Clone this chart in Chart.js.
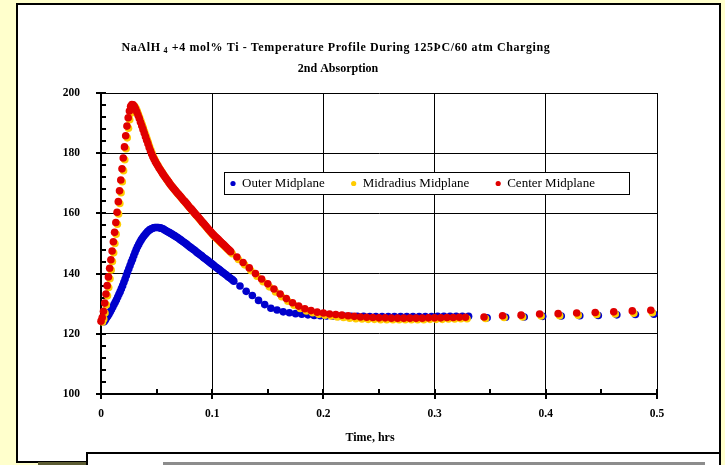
<!DOCTYPE html>
<html>
<head>
<meta charset="utf-8">
<script src="https://cdn.jsdelivr.net/npm/chart.js"></script>
<style>
  html, body { margin: 0; padding: 0; }
  body { width: 725px; height: 465px; background: #ffffcc; position: relative; overflow: hidden; }
  .frame { position: absolute; left: 16px; top: 3px; width: 701px; height: 456px; border: 2px solid #000; background: #fff; }
  .shadow { position: absolute; left: 38px; top: 462px; width: 48px; height: 3px; background: #5c5c33; }
  .panel { position: absolute; box-sizing: border-box; left: 86px; top: 452px; width: 635px; height: 13px;
           border-top: 2px solid #000; border-left: 2px solid #000; border-right: 2px solid #000; background: #fff; }
  .bar { position: absolute; left: 163px; top: 462px; width: 542px; height: 3px; background: #8c8c8c; }
  #chart { position: absolute; left: 0; top: 0; }
</style>
</head>
<body>
<div class="frame"></div>
<div class="shadow"></div>
<div class="panel"></div>
<div class="bar"></div>
<canvas id="chart" width="725" height="465"></canvas>
<script>
// sample times in seconds from start of charging
const timeSec = [
  0, 4, 8, 12, 16, 20, 24, 28, 32, 36,
  40, 44, 48, 52, 56, 60, 64, 68, 72, 76,
  80, 84, 88, 92, 96, 100, 104, 108, 112, 116,
  120, 124, 128, 132, 136, 140, 144, 148, 152, 156,
  160, 164, 168, 172, 176, 180, 184, 188, 192, 196,
  200, 204, 208, 212, 216, 220, 224, 228, 232, 236,
  240, 244, 248, 252, 256, 260, 264, 268, 272, 276,
  280, 284, 288, 292, 296, 300, 304, 308, 312, 316,
  320, 324, 328, 332, 336, 340, 344, 348, 352, 356,
  360, 364, 368, 372, 376, 380, 384, 388, 392, 396,
  400, 404, 408, 412, 416, 420,
  440, 460, 480, 500, 520, 540, 560, 580, 600, 620,
  640, 660, 680, 700, 720, 740, 760, 780, 800, 820,
  840, 860, 880, 900, 920, 940, 960, 980, 1000, 1020,
  1040, 1060, 1080, 1100, 1120, 1140, 1160, 1180,
  1240, 1300, 1360, 1420, 1480, 1540, 1600, 1660, 1720, 1780
];

// thermocouples are read one after another, so each channel lags a little
const readDelaySec = [10, 5, 0];

const outerTemp = [
  124.0, 124.6, 125.3, 125.9, 126.6, 127.3, 128.1, 128.9, 129.7, 130.5,
  131.3, 132.2, 133.1, 134.0, 135.0, 136.0, 137.1, 138.2, 139.4, 140.5,
  141.6, 142.7, 143.8, 144.8, 145.9, 147.0, 148.0, 148.9, 149.7, 150.5,
  151.2, 151.8, 152.4, 152.9, 153.4, 153.9, 154.2, 154.6, 154.8, 155.0,
  155.2, 155.3, 155.3, 155.3, 155.3, 155.2, 155.1, 155.0, 154.8, 154.5,
  154.3, 154.0, 153.8, 153.6, 153.3, 153.1, 152.8, 152.6, 152.3, 152.1,
  151.8, 151.5, 151.2, 150.9, 150.6, 150.3, 150.0, 149.7, 149.3, 149.0,
  148.7, 148.4, 148.1, 147.8, 147.5, 147.1, 146.8, 146.5, 146.2, 145.9,
  145.5, 145.2, 144.9, 144.6, 144.3, 143.9, 143.6, 143.3, 143.0, 142.7,
  142.3, 142.0, 141.7, 141.4, 141.1, 140.7, 140.4, 140.1, 139.8, 139.5,
  139.1, 138.8, 138.5, 138.2, 137.9, 137.5,
  135.9, 134.1, 132.7, 131.1, 129.7, 128.5, 127.9, 127.3, 127.0, 126.7,
  126.5, 126.3, 126.1, 126.0, 125.9, 125.9, 125.8, 125.8, 125.8, 125.8,
  125.8, 125.7, 125.7, 125.7, 125.7, 125.7, 125.7, 125.7, 125.7, 125.7,
  125.7, 125.7, 125.8, 125.8, 125.8, 125.8, 125.8, 125.8,
  125.3, 125.5, 125.6, 125.8, 125.9, 126.0, 126.1, 126.3, 126.4, 126.5
];

const midradiusTemp = [
  123.9, 124.9, 126.9, 129.6, 132.6, 135.4, 138.3, 141.2, 144.0, 146.9,
  150.0, 153.1, 156.4, 159.8, 163.3, 166.9, 170.5, 174.2, 177.8, 181.5,
  185.1, 188.3, 191.1, 193.3, 194.9, 195.7, 195.6, 195.0, 194.1, 193.0,
  191.9, 190.8, 189.6, 188.4, 187.2, 186.0, 184.8, 183.6, 182.4, 181.2,
  180.1, 179.0, 178.1, 177.3, 176.5, 175.8, 175.1, 174.4, 173.8, 173.1,
  172.5, 171.9, 171.3, 170.7, 170.2, 169.6, 169.0, 168.5, 168.0, 167.5,
  167.0, 166.5, 166.0, 165.6, 165.1, 164.6, 164.1, 163.6, 163.2, 162.7,
  162.2, 161.7, 161.2, 160.8, 160.3, 159.8, 159.3, 158.8, 158.4, 157.9,
  157.4, 156.9, 156.4, 156.0, 155.5, 155.0, 154.5, 154.0, 153.6, 153.1,
  152.6, 152.2, 151.8, 151.4, 151.0, 150.6, 150.2, 149.8, 149.4, 149.0,
  148.6, 148.2, 147.8, 147.4, 147.0, 146.6,
  144.7, 142.9, 141.0, 139.1, 137.3, 135.6, 133.9, 132.3, 130.8, 129.5,
  128.4, 127.6, 127.0, 126.5, 126.2, 125.9, 125.6, 125.4, 125.2, 125.0,
  124.9, 124.8, 124.8, 124.7, 124.7, 124.7, 124.7, 124.7, 124.7, 124.7,
  124.7, 124.8, 124.8, 124.8, 124.9, 124.9, 125.0, 125.0,
  125.1, 125.4, 125.6, 125.9, 126.0, 126.2, 126.4, 126.6, 126.8, 127.0
];

const centerTemp = [
  124.2, 125.4, 127.5, 130.2, 133.2, 136.0, 138.9, 141.8, 144.6, 147.5,
  150.6, 153.7, 157.0, 160.4, 163.9, 167.5, 171.1, 174.8, 178.4, 182.1,
  185.8, 189.0, 191.8, 194.0, 195.6, 196.2, 196.1, 195.5, 194.7, 193.7,
  192.6, 191.5, 190.3, 189.1, 187.9, 186.7, 185.5, 184.3, 183.1, 181.9,
  180.8, 179.7, 178.8, 178.0, 177.2, 176.5, 175.8, 175.1, 174.5, 173.8,
  173.2, 172.6, 172.0, 171.4, 170.9, 170.3, 169.7, 169.2, 168.7, 168.2,
  167.7, 167.2, 166.7, 166.3, 165.8, 165.3, 164.8, 164.3, 163.9, 163.4,
  162.9, 162.4, 161.9, 161.5, 161.0, 160.5, 160.0, 159.5, 159.1, 158.6,
  158.1, 157.6, 157.1, 156.7, 156.2, 155.7, 155.2, 154.7, 154.3, 153.8,
  153.3, 152.9, 152.5, 152.1, 151.7, 151.3, 150.9, 150.5, 150.1, 149.7,
  149.3, 148.9, 148.5, 148.1, 147.7, 147.3,
  145.5, 143.7, 141.9, 140.0, 138.2, 136.6, 134.9, 133.2, 131.7, 130.3,
  129.2, 128.3, 127.7, 127.2, 126.9, 126.6, 126.4, 126.2, 126.0, 125.8,
  125.6, 125.5, 125.4, 125.3, 125.3, 125.2, 125.2, 125.2, 125.2, 125.2,
  125.2, 125.3, 125.3, 125.3, 125.4, 125.4, 125.5, 125.5,
  125.6, 126.0, 126.2, 126.6, 126.7, 126.9, 127.1, 127.3, 127.6, 127.8
];

const seriesNames = ['Outer Midplane', 'Midradius Midplane', 'Center Midplane'];
const seriesTemps = [outerTemp, midradiusTemp, centerTemp];
const seriesColors = ['#0000cc', '#ffcc00', '#e00000'];

const xTicks = [0, 0.1, 0.2, 0.3, 0.4, 0.5];
const yTicks = [100, 120, 140, 160, 180, 200];

const titleHead = 'NaAlH';
const titleSub = '4';
const titleTail = ' +4 mol% Ti - Temperature Profile During 125\u00DEC/60 atm Charging';
const titleLine2 = '2nd Absorption';
const xTitle = 'Time, hrs';

const SERIF = "'Liberation Serif', 'Times New Roman', serif";

function toPoints(temps, delay) {
  return timeSec.map((s, i) => ({ x: (s + delay) / 3600, y: temps[i] }));
}

// major ticks cross the axis, minor ticks point into the plot
const axisTicks = {
  id: 'axisTicks',
  beforeDatasetsDraw(chart) {
    const { ctx, scales: { x, y } } = chart;
    const x0 = Math.round(x.getPixelForValue(0));
    const y0 = Math.round(y.getPixelForValue(100));
    ctx.save();
    ctx.strokeStyle = '#000';
    ctx.lineWidth = 2;
    ctx.beginPath();
    for (let v = 100; v <= 200; v += 4) {
      const py = Math.round(y.getPixelForValue(v));
      ctx.moveTo(v % 20 === 0 ? x0 - 5 : x0, py);
      ctx.lineTo(x0 + 5, py);
    }
    for (let i = 0; i <= 10; i++) {
      const px = Math.round(x.getPixelForValue(i * 0.05));
      ctx.moveTo(px, i % 2 === 0 ? y0 + 5 : y0);
      ctx.lineTo(px, y0 - 5);
    }
    ctx.stroke();
    ctx.restore();
  }
};

// title with subscript, axis title and the boxed legend
const chartText = {
  id: 'chartText',
  afterDraw(chart) {
    const { ctx } = chart;
    ctx.save();
    ctx.fillStyle = '#000';
    ctx.textBaseline = 'middle';

    const big = `bold 12px ${SERIF}`, small = `bold 8px ${SERIF}`;
    ctx.letterSpacing = '0.6px';
    ctx.font = big;
    const wHead = ctx.measureText(titleHead).width;
    const wTail = ctx.measureText(titleTail).width;
    ctx.font = small;
    const wSub = ctx.measureText(titleSub).width;
    let tx = 336 - (wHead + 3 + wSub + wTail) / 2;
    ctx.textAlign = 'left';
    ctx.font = big;
    ctx.fillText(titleHead, tx, 48);
    tx += wHead + 3;
    ctx.font = small;
    ctx.fillText(titleSub, tx, 51);
    tx += wSub;
    ctx.font = big;
    ctx.fillText(titleTail, tx, 48);
    ctx.letterSpacing = '0px';
    ctx.textAlign = 'center';
    ctx.fillText(titleLine2, 338, 69);

    ctx.fillText(xTitle, 370, 438);

    // legend
    ctx.fillStyle = '#fff';
    ctx.fillRect(224, 172, 405, 22);
    ctx.strokeStyle = '#000';
    ctx.lineWidth = 1;
    ctx.strokeRect(224.5, 172.5, 405, 22);
    ctx.font = `13px ${SERIF}`;
    ctx.textAlign = 'left';
    let lx = 233;
    chart.data.datasets.forEach(ds => {
      ctx.fillStyle = ds.backgroundColor;
      ctx.beginPath();
      ctx.arc(lx, 183.5, 2.6, 0, Math.PI * 2);
      ctx.fill();
      ctx.fillStyle = '#000';
      ctx.fillText(ds.label, lx + 9, 184);
      lx += 9 + ctx.measureText(ds.label).width + 29;
    });
    ctx.restore();
  }
};

const tickFont = { family: SERIF, size: 11.5, weight: 'bold' };

new Chart(document.getElementById('chart'), {
  type: 'scatter',
  data: {
    datasets: seriesNames.map((name, k) => ({
      label: name,
      data: toPoints(seriesTemps[k], readDelaySec[k]),
      backgroundColor: seriesColors[k],
      borderColor: seriesColors[k],
      pointRadius: 3.8,
      pointHoverRadius: 3.8,
      pointBorderWidth: 0,
      clip: false,
      order: 3 - k
    }))
  },
  options: {
    responsive: false,
    animation: false,
    events: [],
    layout: { padding: { left: 0, top: 93, right: 68, bottom: 0 } },
    plugins: {
      legend: { display: false },
      title: { display: false },
      tooltip: { enabled: false }
    },
    scales: {
      x: {
        type: 'linear',
        min: 0,
        max: 0.5,
        afterBuildTicks: s => { s.ticks = xTicks.map(value => ({ value })); },
        afterFit: s => { s.height = 71; },
        grid: { color: '#000', lineWidth: 1, drawTicks: false },
        border: { color: '#000', width: 2 },
        ticks: { color: '#000', font: tickFont, padding: 13, maxRotation: 0, autoSkip: false,
                 callback: v => String(v) }
      },
      y: {
        type: 'linear',
        min: 100,
        max: 200,
        afterBuildTicks: s => { s.ticks = yTicks.map(value => ({ value })); },
        afterFit: s => { s.width = 101; },
        grid: { color: '#000', lineWidth: 1, drawTicks: false },
        border: { color: '#000', width: 2 },
        ticks: { color: '#000', font: tickFont, padding: 21, autoSkip: false,
                 callback: v => String(v) }
      }
    }
  },
  plugins: [axisTicks, chartText]
});
</script>
</body>
</html>
